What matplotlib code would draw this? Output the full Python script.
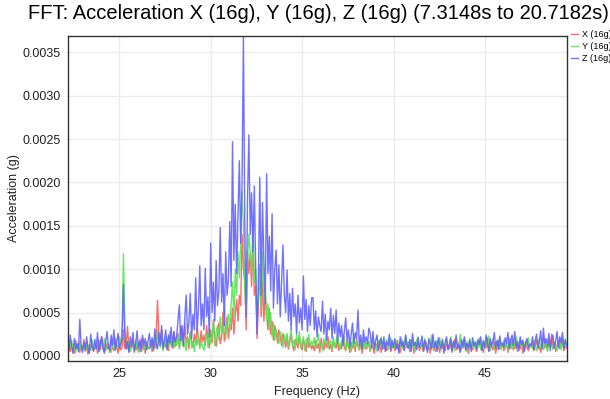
import numpy as np
import matplotlib
matplotlib.use("Agg")
import matplotlib.pyplot as plt

plt.rcParams['font.family'] = ['Liberation Sans', 'DejaVu Sans']

# FFT bins: first bin frequency and bin spacing (Hz)
freq_start = 22.16
freq_step = 0.07461

# amplitudes in units of 1e-5 g
x_vals = [
    20, 12, 5, 15, 8, 3, 18, 9, 14, 4, 11, 7, 19, 6, 10, 2, 13, 8, 16, 5,
    9, 14, 3, 18, 7, 22, 10, 5, 15, 8, 12, 4, 17, 9, 6, 20, 11, 3, 14, 7,
    10, 30, 8, 14, 34, 6, 12, 9, 18, 4, 11, 7, 15, 5, 20, 8, 13, 3, 16, 10,
    8, 14, 5, 18, 9, 22, 64, 25, 12, 30, 7, 16, 10, 20, 6, 24, 13, 9, 28, 11,
    14, 26, 9, 34, 18, 12, 38, 15, 22, 8, 28, 17, 10, 25, 14, 33, 20, 11, 29, 16,
    24, 12, 35, 18, 9, 30, 15, 42, 20, 11, 26, 38, 14, 22, 50, 17, 28, 45, 20, 36,
    30, 55, 25, 48, 65, 40, 70, 58, 140, 100, 85, 30, 120, 95, 118, 80, 132, 70, 80, 20,
    60, 105, 45, 85, 40, 70, 47, 30, 55, 25, 40, 18, 35, 28, 15, 30, 22, 12, 26, 18,
    10, 22, 8, 16, 25, 12, 6, 19, 14, 9, 24, 11, 7, 18, 13, 5, 21, 10, 15, 8,
    12, 6, 18, 9, 14, 4, 20, 11, 7, 16, 10, 22, 8, 13, 5, 17, 12, 9, 19, 6,
    14, 8, 25, 10, 6, 18, 12, 4, 16, 9, 13, 5, 20, 11, 7, 15, 3, 12, 18, 8,
    10, 16, 5, 13, 9, 3, 15, 11, 7, 18, 4, 12, 8, 14, 6, 10, 17, 5, 9, 13,
    6, 12, 18, 8, 4, 15, 10, 7, 20, 9, 13, 5, 11, 16, 3, 14, 8, 19, 6, 10,
    13, 5, 9, 16, 7, 12, 3, 18, 10, 6, 14, 8, 11, 4, 17, 9, 13, 6, 15, 10,
    8, 14, 4, 11, 19, 7, 10, 15, 5, 12, 9, 20, 6, 13, 3, 16, 10, 7, 14, 11,
    5, 12, 17, 8, 10, 4, 15, 9, 21, 6, 13, 11, 7, 16, 3, 12, 18, 8, 10, 14,
    6, 11, 15, 4, 13, 9, 19, 7, 10, 14, 5, 12, 8, 17, 3, 11, 16, 9, 6, 13,
    10, 15, 6, 12, 18, 8, 11, 4, 14, 20, 9, 13, 7, 16, 11, 25, 8, 14, 5, 12,
    17, 8, 13, 21, 6, 11, 9,
]

y_vals = [
    15, 8, 12, 18, 6, 10, 4, 14, 9, 17, 7, 11, 13, 5, 16, 9, 12, 6, 19, 10,
    7, 14, 10, 5, 16, 12, 8, 20, 6, 11, 15, 9, 4, 13, 18, 7, 12, 10, 22, 14,
    30, 118, 35, 12, 8, 16, 5, 11, 14, 7, 18, 9, 4, 13, 10, 20, 6, 12, 15, 8,
    11, 18, 7, 14, 22, 9, 30, 16, 10, 25, 6, 13, 19, 8, 15, 28, 11, 17, 9, 21,
    12, 24, 8, 18, 30, 10, 15, 6, 22, 13, 27, 9, 17, 5, 20, 12, 26, 8, 16, 11,
    6, 18, 25, 10, 32, 15, 22, 40, 12, 28, 35, 18, 45, 25, 30, 55, 20, 38, 48, 30,
    60, 85, 45, 100, 70, 120, 90, 130, 190, 150, 75, 50, 110, 140, 120, 95, 160, 85, 100, 40,
    70, 95, 55, 120, 65, 80, 40, 60, 30, 50, 22, 38, 18, 30, 25, 14, 28, 20, 10, 24,
    15, 26, 10, 20, 30, 12, 18, 8, 24, 14, 28, 9, 16, 22, 6, 19, 12, 25, 10, 17,
    13, 21, 8, 17, 25, 11, 15, 6, 20, 12, 26, 9, 14, 18, 7, 22, 10, 16, 24, 12,
    8, 18, 12, 22, 6, 15, 10, 20, 5, 14, 25, 9, 17, 11, 7, 19, 13, 21, 8, 15,
    10, 17, 6, 14, 20, 9, 13, 5, 18, 11, 22, 8, 15, 12, 19, 7, 16, 21, 10, 14,
    9, 18, 12, 6, 15, 20, 8, 13, 24, 10, 16, 7, 19, 11, 14, 5, 17, 22, 9, 12,
    15, 8, 20, 11, 6, 17, 13, 24, 9, 14, 5, 18, 12, 21, 7, 16, 10, 13, 19, 8,
    12, 22, 9, 16, 6, 19, 13, 10, 25, 8, 15, 11, 18, 5, 14, 20, 9, 12, 17, 7,
    16, 10, 21, 7, 13, 18, 9, 15, 11, 23, 6, 14, 19, 8, 12, 17, 10, 22, 7, 13,
    18, 9, 14, 6, 20, 12, 8, 16, 11, 22, 7, 13, 19, 10, 15, 5, 17, 12, 21, 9,
    13, 8, 18, 11, 6, 15, 20, 9, 14, 7, 17, 12, 5, 19, 10, 14, 8, 16, 11, 6,
    12, 18, 7, 14, 10, 20, 13,
]

z_vals = [
    18, 6, 24, 10, 3, 20, 8, 14, 5, 42, 12, 4, 16, 7, 22, 9, 3, 25, 11, 6,
    19, 8, 27, 5, 14, 22, 9, 3, 17, 28, 10, 6, 24, 12, 30, 7, 15, 26, 9, 13,
    20, 82, 25, 8, 17, 4, 22, 11, 27, 6, 14, 29, 9, 18, 5, 24, 12, 20, 7, 16,
    26, 10, 21, 6, 31, 14, 8, 27, 12, 35, 9, 18, 30, 7, 24, 15, 33, 11, 28, 16,
    22, 40, 59, 18, 35, 12, 44, 70, 25, 38, 72, 20, 48, 30, 90, 28, 55, 104, 35, 60,
    30, 101, 45, 68, 22, 130, 50, 85, 40, 110, 58, 75, 148, 62, 95, 35, 120, 70, 88, 155,
    80, 247, 110, 175, 95, 160, 225, 130, 200, 370, 150, 45, 180, 255, 140, 188, 120, 196, 100, 25,
    90, 206, 70, 177, 110, 60, 210, 95, 138, 75, 164, 55, 100, 122, 60, 105, 45, 85, 128, 70,
    50, 99, 40, 72, 30, 78, 45, 60, 25, 70, 38, 55, 30, 92, 42, 65, 28, 58, 35, 67,
    67, 30, 52, 22, 45, 35, 28, 63, 25, 48, 18, 40, 30, 55, 20, 47, 26, 53, 15, 38,
    22, 35, 12, 28, 44, 18, 30, 10, 25, 38, 14, 27, 20, 53, 12, 24, 8, 30, 16, 22,
    14, 32, 26, 10, 28, 8, 18, 24, 6, 15, 20, 9, 22, 5, 16, 12, 25, 7, 18, 10,
    20, 8, 14, 3, 22, 11, 17, 6, 24, 13, 9, 19, 5, 26, 12, 16, 7, 21, 10, 15,
    23, 6, 18, 11, 4, 20, 14, 8, 25, 10, 17, 5, 21, 12, 9, 19, 3, 16, 22, 7,
    14, 20, 6, 17, 10, 24, 8, 13, 4, 19, 11, 22, 7, 15, 9, 18, 5, 21, 12, 16,
    8, 19, 13, 22, 6, 17, 10, 24, 14, 5, 20, 11, 16, 27, 9, 18, 7, 23, 12, 15,
    10, 21, 14, 27, 8, 19, 24, 12, 28, 9, 17, 6, 22, 13, 18, 5, 15, 20, 9, 14,
    12, 22, 7, 18, 25, 10, 16, 29, 8, 32, 14, 20, 11, 26, 6, 19, 24, 9, 17, 28,
    10, 22, 15, 27, 8, 18, 12,
]

freqs = freq_start + freq_step * np.arange(len(z_vals))
x_g = np.array(x_vals) * 1e-5
y_g = np.array(y_vals) * 1e-5
z_g = np.array(z_vals) * 1e-5

fig = plt.figure(figsize=(6.1, 3.99), dpi=100)
ax = fig.add_axes([0.111, 0.095, 0.8185, 0.815])

ax.plot(freqs, x_g, color='#ff5a5a', lw=1.0, alpha=0.9, label='X (16g)')
ax.plot(freqs, y_g, color='#55e655', lw=1.0, alpha=0.9, label='Y (16g)')
ax.plot(freqs, z_g, color='#6262ff', lw=1.0, alpha=0.9, label='Z (16g)')

ax.set_xlim(22.17, 49.49)
ax.set_ylim(-0.00006, 0.00369)
ax.set_xticks([25, 30, 35, 40, 45])
ax.set_yticks(np.arange(0, 0.0036, 0.0005))
ax.yaxis.set_major_formatter(matplotlib.ticker.FormatStrFormatter('%.4f'))
ax.grid(True, color='#ececec', lw=1.0)
ax.set_axisbelow(True)
ax.tick_params(length=0, labelsize=9, colors='#222222', pad=5)
for s in ax.spines.values():
    s.set_color('#333333')
    s.set_linewidth(1.0)

ax.set_xlabel('Frequency (Hz)', fontsize=9, color='#222222', labelpad=4)
ax.set_ylabel('Acceleration (g)', fontsize=9, color='#222222', labelpad=2)
fig.suptitle('FFT: Acceleration X (16g), Y (16g), Z (16g) (7.3148s to 20.7182s)',
             fontsize=14.5, x=0.522, y=0.99)

fig.legend(loc='upper left', bbox_to_anchor=(0.936, 0.925), frameon=False,
           fontsize=6.5, handlelength=0.8, handletextpad=0.4, labelspacing=0.35,
           borderaxespad=0, borderpad=0)

fig.savefig('out.png', dpi=100)
